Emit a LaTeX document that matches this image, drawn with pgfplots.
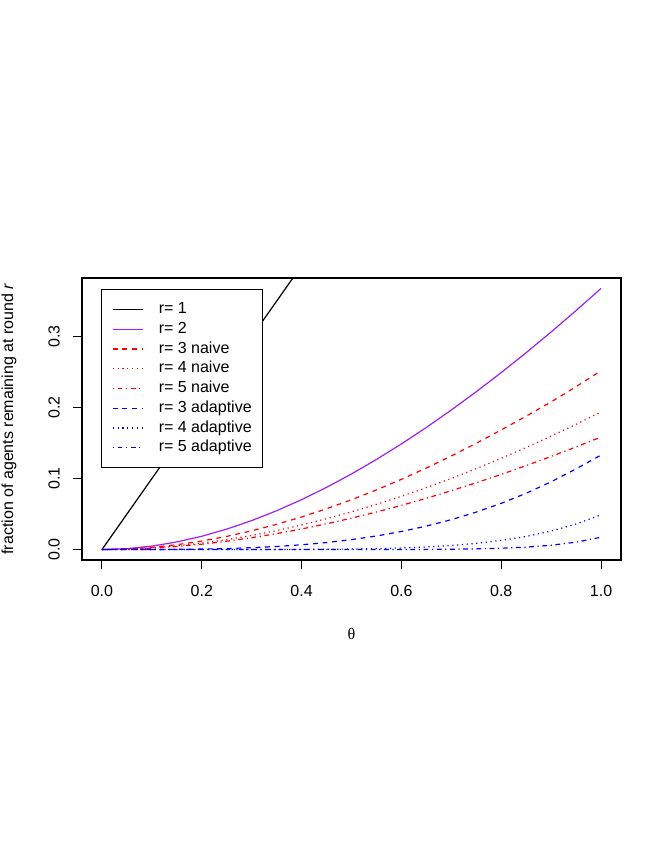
\documentclass[12pt,border=0pt]{standalone}
\usepackage{fontspec}
\setmainfont{Liberation Sans}
\newfontfamily\serifgr{Liberation Serif}
\usepackage{pgfplots}
\pgfplotsset{compat=1.18}
\definecolor{rpurple}{HTML}{A020F0}
\definecolor{rred}{HTML}{FF0000}
\definecolor{rblue}{HTML}{0000FF}

\begin{document}
\begin{tikzpicture}
\path[use as bounding box] (0,0) rectangle (498pt,645pt);
\begin{axis}[
  at={(61.5pt,225pt)}, anchor=south west,
  scale only axis, width=404.25pt, height=211.5pt,
  xmin=-0.04, xmax=1.04, ymin=-0.0147, ymax=0.3826,
  axis line style={line width=0.8pt},
  xtick={0,0.2,0.4,0.6,0.8,1}, xticklabels={0.0,0.2,0.4,0.6,0.8,1.0},
  ytick={0,0.1,0.2,0.3}, yticklabels={0.0,0.1,0.2,0.3},
  tick align=outside, major tick length=7.1pt,
  xtick pos=bottom, ytick pos=left,
  tick style={black, line width=0.8pt},
  /pgf/number format/assume math mode=true,
  xticklabel style={anchor=base, yshift=-20.6pt},
  yticklabel style={xshift=-13.9pt, rotate=90, anchor=center},
  xlabel={\serifgr θ},
  xlabel style={at={(axis description cs:0.5,-0.262)}, anchor=center},
  ylabel={fraction of agents remaining at round \textit{r}},
  ylabel style={at={(axis description cs:-0.1354,0.5)}, anchor=center},
  every axis plot/.append style={line width=0.9pt},
  legend image code/.code={\path (0pt,0pt); \draw[#1] (0pt,0pt) -- (22.5pt,0pt);},
  legend cell align=left,
  legend style={at={(axis description cs:0.0353,0.961)}, anchor=north west,
    draw=black, line width=0.8pt, inner xsep=8pt, inner ysep=9.3pt,
    row sep=3.4pt, column sep=11.5pt,
    nodes={inner sep=0pt, text height=8.8pt, text depth=2.6pt}},
]
\addplot[black] coordinates {(0,0) (1,1)};
\addlegendentry{r= 1}
\addplot[rpurple] coordinates {
(0,0) (0.05,0.001229) (0.10,0.004837) (0.15,0.010708) (0.20,0.018731)
(0.25,0.028801) (0.30,0.040818) (0.35,0.054688) (0.40,0.070320) (0.45,0.087628)
(0.50,0.106531) (0.55,0.126950) (0.60,0.148812) (0.65,0.172046) (0.70,0.196585)
(0.75,0.222367) (0.80,0.249329) (0.85,0.277415) (0.90,0.306570) (0.95,0.336741)
(1.00,0.367879)};
\addlegendentry{r= 2}
\addplot[rred, dash pattern=on 3.6pt off 3.6pt] coordinates {
(0,0) (0.05,0.000778) (0.10,0.003075) (0.15,0.006839) (0.20,0.012018)
(0.25,0.018562) (0.30,0.026426) (0.35,0.035563) (0.40,0.045933) (0.45,0.057493)
(0.50,0.070204) (0.55,0.084028) (0.60,0.098930) (0.65,0.114875) (0.70,0.131830)
(0.75,0.149764) (0.80,0.168500) (0.85,0.188000) (0.90,0.208000) (0.95,0.229500)
(1.00,0.252000)};
\addlegendentry{r= 3 naive}
\addplot[rred, dash pattern=on 0.9pt off 2.7pt] coordinates {
(0,0) (0.05,0.000581) (0.10,0.002301) (0.15,0.005124) (0.20,0.009017)
(0.25,0.013947) (0.30,0.019882) (0.35,0.026794) (0.40,0.034654) (0.45,0.043433)
(0.50,0.053106) (0.55,0.063646) (0.60,0.075031) (0.65,0.087236) (0.70,0.100239)
(0.75,0.114019) (0.80,0.128554) (0.85,0.143826) (0.90,0.159815) (0.95,0.176503)
(1.00,0.193872)};
\addlegendentry{r= 4 naive}
\addplot[rred, dash pattern=on 0.9pt off 2.7pt on 3.6pt off 2.7pt] coordinates {
(0,0) (0.05,0.000494) (0.10,0.001950) (0.15,0.004333) (0.20,0.007609)
(0.25,0.011744) (0.30,0.016707) (0.35,0.022469) (0.40,0.029000) (0.45,0.036273)
(0.50,0.044264) (0.55,0.052944) (0.60,0.062293) (0.65,0.072285) (0.70,0.082900)
(0.75,0.094117) (0.80,0.105915) (0.85,0.118276) (0.90,0.131181) (0.95,0.144613)
(1.00,0.158556)};
\addlegendentry{r= 5 naive}
\addplot[rblue, dash pattern=on 3.6pt off 3.6pt] coordinates {
(0,0) (0.05,0.000009) (0.10,0.000078) (0.15,0.000282) (0.20,0.000707)
(0.25,0.001454) (0.30,0.002629) (0.35,0.004347) (0.40,0.006729) (0.45,0.009899)
(0.50,0.013987) (0.55,0.019122) (0.60,0.025437) (0.65,0.033063) (0.70,0.042133)
(0.75,0.052778) (0.80,0.065131) (0.85,0.079319) (0.90,0.095471) (0.95,0.113713)
(1.00,0.133168)};
\addlegendentry{r= 3 adaptive}
\addplot[rblue, dash pattern=on 0.9pt off 2.7pt] coordinates {
(0,0) (0.05,0) (0.10,0) (0.15,0) (0.20,0.000003)
(0.25,0.000012) (0.30,0.000036) (0.35,0.000090) (0.40,0.000201) (0.45,0.000407)
(0.50,0.000766) (0.55,0.001356) (0.60,0.002286) (0.65,0.003696) (0.70,0.005765)
(0.75,0.008721) (0.80,0.012845) (0.85,0.018480) (0.90,0.026041) (0.95,0.036020)
(1.00,0.049000)};
\addlegendentry{r= 4 adaptive}
\addplot[rblue, dash pattern=on 0.9pt off 2.7pt on 3.6pt off 2.7pt] coordinates {
(0,0) (0.05,0) (0.10,0) (0.15,0) (0.20,0)
(0.25,0) (0.30,0) (0.35,0) (0.40,0.000002) (0.45,0.000006)
(0.50,0.000017) (0.55,0.000044) (0.60,0.000105) (0.65,0.000234) (0.70,0.000492)
(0.75,0.000980) (0.80,0.001868) (0.85,0.003426) (0.90,0.006067) (0.95,0.010418)
(1.00,0.017400)};
\addlegendentry{r= 5 adaptive}
\end{axis}
\end{tikzpicture}
\end{document}
